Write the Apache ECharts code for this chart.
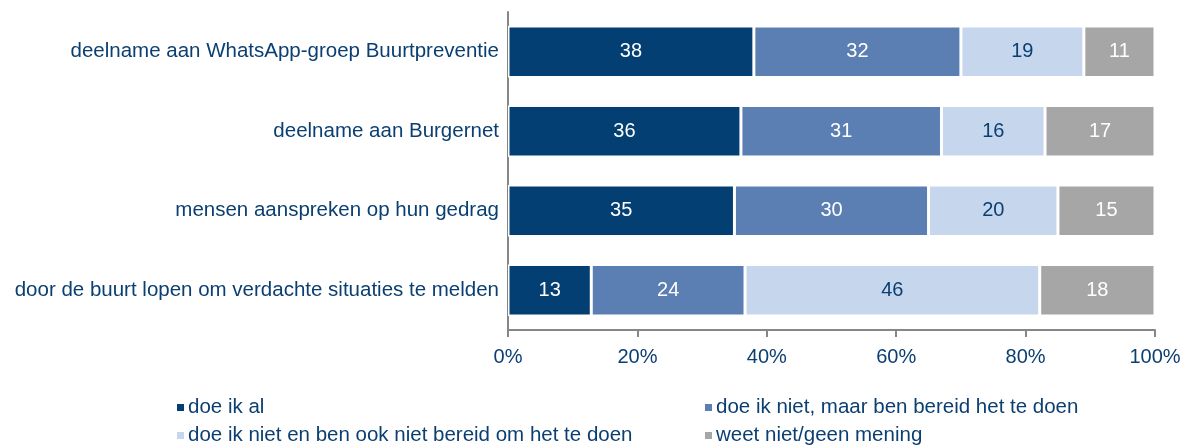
<!DOCTYPE html>
<html>
<head>
<meta charset="utf-8">
<script src="https://cdn.jsdelivr.net/npm/echarts@6/dist/echarts.min.js"></script>
<style>
  html, body { margin: 0; padding: 0; background: #fff; }
  #chart { width: 1191px; height: 446px; }
</style>
</head>
<body>
<div id="chart"></div>
<script>
// categories, top to bottom
var categories = [
  'deelname aan WhatsApp-groep Buurtpreventie',
  'deelname aan Burgernet',
  'mensen aanspreken op hun gedrag',
  'door de buurt lopen om verdachte situaties te melden'
];
var seriesNames = [
  'doe ik al',
  'doe ik niet, maar ben bereid het te doen',
  'doe ik niet en ben ook niet bereid om het te doen',
  'weet niet/geen mening'
];
// values per answer, one per category
var doeIkAl = [38, 36, 35, 13];
var bereid = [32, 31, 30, 24];
var nietBereid = [19, 16, 20, 46];
var weetNiet = [11, 17, 15, 18];
var tickLabels = ['0%', '20%', '40%', '60%', '80%', '100%'];

var colors = ['#033f72', '#5b7fb3', '#c6d7ed', '#a6a6a6'];
var labelColors = ['#fff', '#fff', '#0b3f72', '#fff'];
var textColor = '#0b3f72';

var raw = [doeIkAl, bereid, nietBereid, weetNiet];
// rows are scaled to 100% (last row adds up to 101)
var totals = categories.map(function (c, i) {
  return raw.reduce(function (s, arr) { return s + arr[i]; }, 0);
});

var series = raw.map(function (arr, k) {
  return {
    name: seriesNames[k],
    type: 'bar',
    stack: 'total',
    barCategoryGap: '35%',
    itemStyle: { color: colors[k], borderColor: '#fff', borderWidth: 1.5 },
    label: {
      show: true,
      position: 'inside',
      color: labelColors[k],
      fontSize: 20,
      fontFamily: 'Liberation Sans',
      formatter: function (p) { return arr[p.dataIndex]; }
    },
    data: arr.map(function (v, i) { return v / totals[i] * 100; })
  };
});

// one legend per item, laid out as two columns of two rows
var legendPos = [[170, 392], [698, 392], [170, 420], [698, 420]];
var legends = seriesNames.map(function (name, k) {
  return {
    data: [name],
    left: legendPos[k][0], top: legendPos[k][1],
    itemWidth: 9, itemHeight: 9,
    icon: 'rect',
    selectedMode: false,
    textStyle: { color: textColor, fontSize: 20.5, padding: [0, 0, 0, -2] }
  };
});

var chart = echarts.init(document.getElementById('chart'));
chart.setOption({
  animation: false,
  textStyle: { fontFamily: 'Liberation Sans' },
  grid: { left: 508, right: 36, top: 12, bottom: 116 },
  legend: legends,
  xAxis: {
    type: 'value',
    min: 0, max: 100, interval: 20,
    axisLine: { show: true, lineStyle: { color: '#868686', width: 2 } },
    axisTick: { show: true, length: 7, lineStyle: { color: '#868686', width: 2 } },
    splitLine: { show: false },
    axisLabel: {
      color: textColor, fontSize: 20, margin: 17,
      formatter: function (v) { return tickLabels[v / 20]; }
    }
  },
  yAxis: {
    type: 'category',
    data: categories,
    inverse: true,
    axisLine: { show: true, lineStyle: { color: '#868686', width: 2 } },
    axisTick: { show: false },
    axisLabel: { color: textColor, fontSize: 20.5, margin: 9 }
  },
  series: series
});
</script>
</body>
</html>
